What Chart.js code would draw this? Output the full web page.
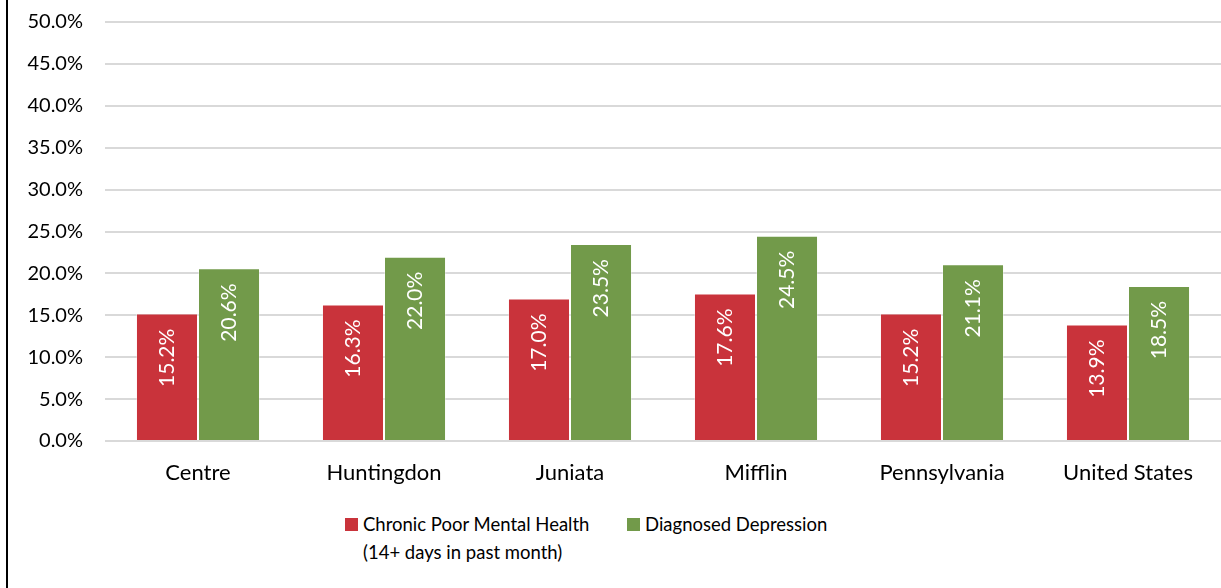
<!DOCTYPE html>
<html>
<head>
<meta charset="utf-8">
<script src="https://cdn.jsdelivr.net/npm/chart.js@4.4.1/dist/chart.umd.min.js"></script>
<style>
  html, body { margin: 0; padding: 0; background: #fff; }
  body { width: 1221px; height: 588px; position: relative; overflow: hidden; font-family: Lato, sans-serif; }
  #frame { position: absolute; left: 6px; top: 0; width: 0; height: 588px; border-left: 2px solid #000; }
  #chart { position: absolute; left: 8px; top: -12px; }
  .leg { position: absolute; display: flex; align-items: flex-start; font-size: 18.5px; line-height: 28px; color: #000; }
  .leg .sw { width: 13px; height: 13px; margin-top: 8px; margin-right: 5px; flex: none; }
</style>
</head>
<body>
<div id="frame"></div>
<canvas id="chart" width="1213" height="502"></canvas>
<div id="legend"></div>
<script>
const categories = ["Centre", "Huntingdon", "Juniata", "Mifflin", "Pennsylvania", "United States"];
const poorMentalHealth = [15.2, 16.3, 17.0, 17.6, 15.2, 13.9];
const depression = [20.6, 22.0, 23.5, 24.5, 21.1, 18.5];
const seriesLabels = [["Chronic Poor Mental Health", "(14+ days in past month)"], ["Diagnosed Depression"]];
const seriesColors = ["#C9333B", "#729A4A"];
const legendLeft = [345, 627];

const barLabels = {
  id: 'barLabels',
  afterDatasetsDraw(chart) {
    const {ctx} = chart;
    ctx.save();
    ctx.font = "21px Lato";
    ctx.fillStyle = "#fff";
    ctx.textAlign = "right";
    ctx.textBaseline = "middle";
    chart.data.datasets.forEach((ds, i) => {
      chart.getDatasetMeta(i).data.forEach((bar, j) => {
        ctx.save();
        ctx.translate(bar.x, bar.y + 15);
        ctx.rotate(-Math.PI / 2);
        ctx.fillText(ds.data[j].toFixed(1) + "%", 0, 0);
        ctx.restore();
      });
    });
    ctx.restore();
  }
};

const chart = new Chart(document.getElementById('chart').getContext('2d'), {
  type: 'bar',
  data: {
    labels: categories,
    datasets: [
      { label: seriesLabels[0].join(" "), data: poorMentalHealth, backgroundColor: seriesColors[0] },
      { label: seriesLabels[1].join(" "), data: depression, backgroundColor: seriesColors[1] }
    ]
  },
  options: {
    responsive: false,
    devicePixelRatio: 1,
    animation: false,
    layout: { padding: { top: 10, right: 0, bottom: 0, left: 0 } },
    datasets: {
      bar: {
        categoryPercentage: 0.667,
        barPercentage: 1.0,
        borderColor: "rgba(255,255,255,0.35)",
        borderWidth: 1
      }
    },
    plugins: { legend: { display: false }, tooltip: { enabled: false } },
    scales: {
      x: {
        grid: { display: false },
        border: { display: false },
        ticks: { color: "#000", font: { family: "Lato", size: 22 }, padding: 11, maxRotation: 0 },
        afterFit(scale) { scale.height = 49; }
      },
      y: {
        min: 0, max: 50,
        border: { display: false },
        grid: { color: "#d9d9d9", lineWidth: 2, drawTicks: false },
        ticks: {
          stepSize: 5, color: "#000", padding: 22,
          font: { family: "Lato", size: 20 },
          callback: v => v.toFixed(1) + "%"
        },
        afterFit(scale) { scale.width = 97; }
      }
    }
  },
  plugins: [barLabels]
});

// legend as html so the first entry can wrap onto two lines
const legend = document.getElementById('legend');
seriesLabels.forEach((lines, i) => {
  const item = document.createElement('div');
  item.className = 'leg';
  item.style.left = legendLeft[i] + 'px';
  item.style.top = '510px';
  const sw = document.createElement('div');
  sw.className = 'sw';
  sw.style.background = seriesColors[i];
  const txt = document.createElement('div');
  txt.innerHTML = lines.join('<br>');
  item.appendChild(sw);
  item.appendChild(txt);
  legend.appendChild(item);
});
</script>
</body>
</html>
